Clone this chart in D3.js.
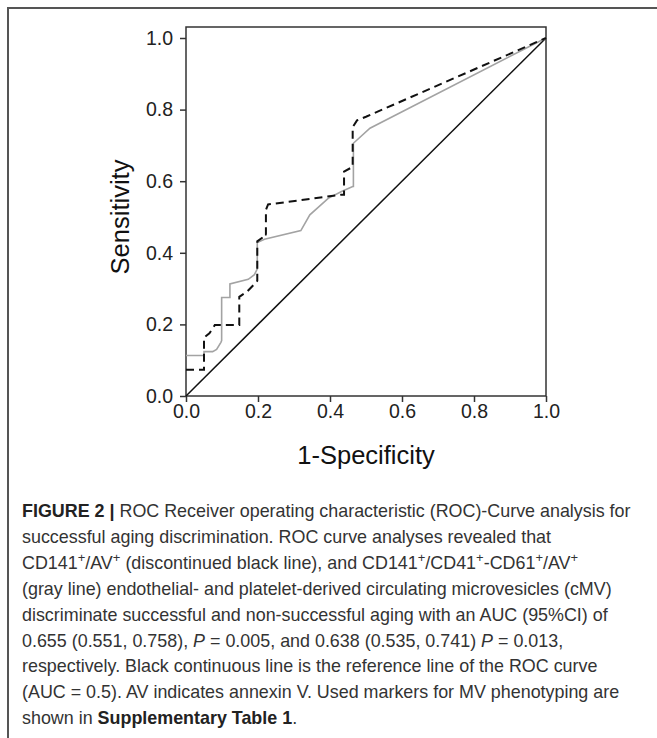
<!DOCTYPE html>
<html><head><meta charset="utf-8">
<script src="https://cdn.jsdelivr.net/npm/d3@7"></script>
<style>html,body{margin:0;padding:0;background:#fff;}svg{display:block;}</style>
</head><body>
<svg id="c" width="657" height="738"></svg>
<script>
// Data
const xTicks = [0, 0.2, 0.4, 0.6, 0.8, 1.0];
const yTicks = [0, 0.2, 0.4, 0.6, 0.8, 1.0];
// CD141+/AV+ (dashed black)
const dashedFPR = [0, 0.05, 0.05, 0.065, 0.08, 0.148, 0.148, 0.17, 0.196, 0.198, 0.198, 0.224, 0.222, 0.222, 0.228, 0.43, 0.439, 0.439, 0.463, 0.463, 0.475, 0.5, 1];
const dashedTPR = [0.073, 0.073, 0.163, 0.175, 0.198, 0.198, 0.277, 0.292, 0.319, 0.322, 0.432, 0.451, 0.451, 0.52, 0.535, 0.562, 0.562, 0.627, 0.64, 0.751, 0.77, 0.78, 1];
// CD141+/CD41+-CD61+/AV+ (gray)
const grayFPR = [0, 0.05, 0.05, 0.074, 0.085, 0.097, 0.099, 0.099, 0.122, 0.122, 0.173, 0.19, 0.198, 0.198, 0.218, 0.319, 0.344, 0.395, 0.432, 0.463, 0.465, 0.465, 0.511, 1];
const grayTPR = [0.113, 0.113, 0.124, 0.124, 0.13, 0.15, 0.155, 0.275, 0.275, 0.313, 0.326, 0.339, 0.355, 0.429, 0.438, 0.462, 0.506, 0.552, 0.571, 0.585, 0.585, 0.706, 0.748, 1];
// Reference line
const refFPR = [0, 1];
const refTPR = [0, 1];

const svg = d3.select("#c");
// outer figure border
svg.append("path").attr("d","M8,738 V8 H657").attr("fill","none").attr("stroke","#555").attr("stroke-width",2);

const x = d3.scaleLinear().domain([0,1]).range([186,546]);
const y = d3.scaleLinear().domain([0,1]).range([396,38]);

// plot frame
svg.append("rect").attr("x",186).attr("y",27).attr("width",360).attr("height",369)
  .attr("fill","none").attr("stroke","#333").attr("stroke-width",1.5);

const xAxis = svg.append("g").attr("transform","translate(0,396)")
  .call(d3.axisBottom(x).tickValues(xTicks).tickFormat(d3.format(".1f")).tickSize(6).tickPadding(2));
const yAxis = svg.append("g").attr("transform","translate(186,0)")
  .call(d3.axisLeft(y).tickValues(yTicks).tickFormat(d3.format(".1f")).tickSize(6).tickPadding(7));
[xAxis,yAxis].forEach(a=>{
  a.select(".domain").remove();
  a.selectAll("line").attr("stroke","#333").attr("stroke-width",1.5);
  a.selectAll("text").attr("font-family","Liberation Sans, Arial, sans-serif").attr("font-size",19.5).attr("fill","#222");
});

const line = d3.line().x(d=>x(d[0])).y(d=>y(d[1]));
svg.append("path").datum(d3.zip(refFPR,refTPR)).attr("d",line)
  .attr("fill","none").attr("stroke","#111").attr("stroke-width",1.5);
svg.append("path").datum(d3.zip(grayFPR,grayTPR)).attr("d",line)
  .attr("fill","none").attr("stroke","#a3a3a3").attr("stroke-width",1.6);
svg.append("path").datum(d3.zip(dashedFPR,dashedTPR)).attr("d",line)
  .attr("fill","none").attr("stroke","#111").attr("stroke-width",2).attr("stroke-dasharray","8,5");

svg.append("text").attr("x",366).attr("y",464).attr("text-anchor","middle")
  .attr("font-family","Liberation Sans, Arial, sans-serif").attr("font-size",25.5).attr("fill","#111").text("1-Specificity");
svg.append("text").attr("transform","translate(129,217) rotate(-90)").attr("text-anchor","middle")
  .attr("font-family","Liberation Sans, Arial, sans-serif").attr("font-size",25.5).attr("fill","#111").text("Sensitivity");

// caption
const cap = [
  [["FIGURE 2 | ","b"],["ROC Receiver operating characteristic (ROC)-Curve analysis for",""]],
  [["successful aging discrimination. ROC curve analyses revealed that",""]],
  [["CD141",""],["+","s"],["/AV",""],["+","s"],[" (discontinued black line), and CD141",""],["+","s"],["/CD41",""],["+","s"],["-CD61",""],["+","s"],["/AV",""],["+","s"]],
  [["(gray line) endothelial- and platelet-derived circulating microvesicles (cMV)",""]],
  [["discriminate successful and non-successful aging with an AUC (95%CI) of",""]],
  [["0.655 (0.551, 0.758), ",""],["P","i"],[" = 0.005, and 0.638 (0.535, 0.741) ",""],["P","i"],[" = 0.013,",""]],
  [["respectively. Black continuous line is the reference line of the ROC curve",""]],
  [["(AUC = 0.5). AV indicates annexin V. Used markers for MV phenotyping are",""]],
  [["shown in ",""],["Supplementary Table 1","b"],[".",""]]
];
const capG = svg.append("g").attr("font-family","Liberation Sans, Arial, sans-serif").attr("font-size",17.9).attr("fill","#333");
cap.forEach((ln,i)=>{
  const t = capG.append("text").attr("x",22).attr("y",517+i*25.9);
  ln.forEach(([s,st])=>{
    const ts = t.append("tspan").text(s);
    if(st==="b") ts.attr("font-weight","bold").attr("fill","#222");
    if(st==="i") ts.attr("font-style","italic");
    if(st==="s") ts.attr("baseline-shift","super").attr("font-size",13);
  });
});
</script>
</body></html>
